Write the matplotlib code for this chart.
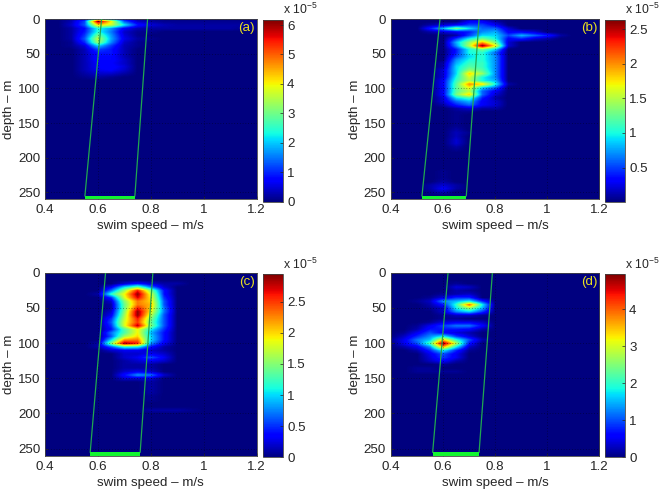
import numpy as np
import matplotlib
matplotlib.use("Agg")
import matplotlib.pyplot as plt

plt.rcParams['font.family'] = ['Liberation Sans', 'DejaVu Sans']
plt.rcParams['mathtext.default'] = 'regular'

speed = [0.40, 0.45, 0.50, 0.55, 0.60, 0.65, 0.70, 0.75, 0.80, 0.85, 0.90, 0.95, 1.00, 1.05, 1.10, 1.15, 1.20]
depth = list(range(0, 265, 5))

# each row: one depth (0, 5, 10 ...), values from speed 0.40 up, in units of 1e-5
rows_a = [
 [0,0,.1,.4,1.5,.8,.3,.1],
 [0,0,.3,1.2,6.1,4.0,1.3,.4,.2,.1,.1,.1,.1,.1,.1,.1,.1],
 [0,0,.4,1.3,4.2,3.7,2.2,.9,.5,.3,.2,.2,.2,.2,.2,.2,.1],
 [0,0,.2,.8,2.4,1.7,.7,.3,.2,.2,.2,.2,.2,.2,.2,.1,.1],
 [0,0,.2,.9,2.4,1.5,.4,.1,.1],
 [0,0,.2,1.1,3.0,1.7,.5,.1],
 [0,0,.2,1.3,3.6,1.8,.6,.2,.1],
 [0,0,.1,1.0,3.3,1.6,.4,.1],
 [0,0,.1,.5,2.0,1.1,.3,.1],
 [0,0,0,.3,1.2,.9,.3],
 [0,0,0,.3,.9,.9,.3],
 [0,0,0,.3,.8,.8,.3],
 [0,0,0,.3,.8,.8,.4],
 [0,0,0,.3,.7,.7,.4],
 [0,0,0,.3,.7,.8,.5],
 [0,0,0,.3,.6,.7,.4],
 [0,0,0,.2,.4,.4,.2],
 [0,0,0,.1,.2,.1],
]
rows_b = [
 [],
 [0,0,0,0,0,0,.3,.3,.1],
 [0,0,0,.1,.2,.3,.5,.5,.3],
 [0,0,0,.4,.8,1.3,.9,.6,.6,.2],
 [0,0,0,.1,.2,.3,.4,.7,.8,.3,.3,.2],
 [0,0,0,0,0,.1,.5,.9,.9,.5,.8,.6,.4,.1],
 [0,0,0,0,0,.5,1.0,1.3,1.0,.3,.4,.2,.1],
 [0,0,0,0,0,.8,1.4,1.9,1.3,.2],
 [0,0,0,0,0,.7,1.5,2.63,1.7,.2],
 [0,0,0,0,0,.4,1.0,1.3,.9],
 [0,0,0,0,0,.4,1.0,1.05,.6],
 [0,0,0,0,0,.5,.9,1.05,.7],
 [0,0,0,0,0,.7,1.0,1.05,.7],
 [0,0,0,0,.1,.8,1.1,1.1,.7],
 [0,0,0,0,.1,.9,1.2,1.1,.7],
 [0,0,0,0,.2,.9,1.4,1.2,.7],
 [0,0,0,0,.2,.9,1.8,1.4,.7],
 [0,0,0,0,.2,1.0,1.6,1.0,.7],
 [0,0,0,0,.3,1.1,1.5,1.0,.8],
 [0,0,0,0,.3,1.2,2.0,1.8,1.0,.1],
 [0,0,0,0,.3,1.2,1.7,.9,.6],
 [0,0,0,0,.3,1.2,1.5,.6,.3],
 [0,0,0,0,.3,1.3,1.8,.6,.2],
 [0,0,0,0,.2,.9,1.1,.4,.1],
 [0,0,0,0,.2,.6,.8,.3,.2],
 [0,0,0,0,.1,.4,.6,.3,.2],
 [0,0,0,0,0,.1,.2,.1,.1],
 [0,0,0,0,0,.05,.05],
 [0,0,0,0,0,.05],
 [0,0,0,0,0,.05],
 [0,0,0,0,0,.05],
 [0,0,0,0,0,.05],
 [0,0,0,0,0,.1],
 [0,0,0,0,0,.15,.05],
 [0,0,0,0,0,.15],
 [0,0,0,0,0,.2],
 [0,0,0,0,0,.2],
 [0,0,0,0,0,.1],
 [0,0,0,0,0,.05],
 [],
 [],
 [],
 [],
 [],
 [0,0,0,0,.05],
 [0,0,0,0,.05],
 [0,0,0,0,.05],
 [0,0,0,0,.1],
 [0,0,0,.1,.2,.1],
 [0,0,0,.1,.3,.1],
 [0,0,0,.05,.15],
]
rows_c = [
 [],
 [],
 [],
 [0,0,0,0,0,0,.2,.4,.2,.1,.1],
 [0,0,0,0,0,.3,1.0,1.4,.7,.2],
 [0,0,0,0,0,.7,1.6,2.6,1.5,.4],
 [0,0,0,0,.1,1.2,1.9,2.9,1.8,.4],
 [0,0,0,0,0,.5,1.8,2.7,1.9,.5],
 [0,0,0,0,0,.2,1.5,2.3,2.0,.6],
 [0,0,0,0,0,.1,1.4,2.3,2.1,.6],
 [0,0,0,0,0,.1,1.4,2.6,2.0,.7],
 [0,0,0,0,0,.2,1.5,2.9,1.9,.7],
 [0,0,0,0,0,.3,1.6,2.9,1.7,.6],
 [0,0,0,0,0,.5,1.7,2.6,1.5,.6],
 [0,0,0,0,0,.6,1.8,2.5,1.4,.6],
 [0,0,0,0,0,.5,1.8,2.8,1.5,.6],
 [0,0,0,0,0,.4,1.3,1.9,1.1,.5],
 [0,0,0,0,0,.7,1.3,1.9,.9,.4],
 [0,0,0,0,0,.6,1.6,2.0,1.0,.4],
 [0,0,0,0,0,1.0,2.2,2.3,1.0,.4],
 [0,0,0,0,.1,1.5,2.85,2.6,.8,.3],
 [0,0,0,0,.1,.6,1.2,1.1,.4,.1],
 [0,0,0,0,0,.2,.3,.3,.2,.1],
 [0,0,0,0,0,0,.2,.2,.3,.2],
 [0,0,0,0,0,0,.2,.3,.6,.3],
 [0,0,0,0,0,0,.1,.2,.3,.2],
 [0,0,0,0,0,0,.1,.1,.1],
 [0,0,0,0,0,0,.1,.1,.1],
 [0,0,0,0,0,0,.2,.3,.2],
 [0,0,0,0,0,0,.4,.8,.7,.2],
 [0,0,0,0,0,0,.2,.2,.2],
 [0,0,0,0,0,0,0,0,.1],
 [0,0,0,0,0,0,0,0,.1],
 [0,0,0,0,0,0,0,0,.1],
 [0,0,0,0,0,0,0,0,.1],
 [0,0,0,0,0,0,0,0,.05],
 [0,0,0,0,0,0,0,0,.05],
 [],
 [],
 [0,0,0,0,0,0,0,0,.1,.1,.1,.05],
]
rows_d = [
 [],
 [],
 [],
 [0,0,0,0,0,.1],
 [0,0,0,0,0,.4,.3],
 [0,0,0,0,0,.2,.1],
 [0,0,0,0,.1,.2,.3],
 [0,0,0,.1,.4,.8,.8],
 [0,0,.1,.3,1.3,1.5,1.8,.8],
 [0,0,0,.2,.7,2.0,4.0,1.8],
 [0,0,0,.1,.3,1.8,2.6,1.5],
 [0,0,0,0,.3,1.3,1.7,.9],
 [0,0,0,0,.1,.3,.3,.1],
 [0,0,0,0,.1,.1],
 [0,0,0,.1,.4,.5,.5,.3],
 [0,0,.1,.5,.9,1.2,1.2,.6],
 [0,0,.2,.7,.7,.7,.6,.2],
 [0,.1,.5,1.0,.6,.4,.2],
 [0,.3,.8,1.3,1.8,.9,.4],
 [.1,.5,1.2,1.6,3.4,2.0,1.0,.2],
 [0,.5,1.0,2.2,4.95,2.8,.7],
 [0,.2,.5,1.3,3.6,1.8,.3],
 [0,0,.2,.8,1.8,.8,.1],
 [0,0,0,.5,1.0,.5],
 [0,0,0,.4,.9,.5],
 [0,0,0,.3,.6,.2],
 [0,0,0,0,.1],
 [0,0,.1,.1],
 [0,0,.1,.1,.1,.1],
]

panel_names = ['(a)', '(b)', '(c)', '(d)']
panel_rows = [rows_a, rows_b, rows_c, rows_d]
panel_vmin = [0, 0.01, 0, 0]
panel_vmax = [6.17, 2.63, 2.94, 4.95]
cbar_ticks = [[0, 1, 2, 3, 4, 5, 6],
              [0.5, 1, 1.5, 2, 2.5],
              [0, 0.5, 1, 1.5, 2, 2.5],
              [0, 1, 2, 3, 4]]
cbar_labels = [['0', '1', '2', '3', '4', '5', '6'],
               ['0.5', '1', '1.5', '2', '2.5'],
               ['0', '0.5', '1', '1.5', '2', '2.5'],
               ['0', '1', '2', '3', '4']]
# envelope lines: speed at depth 0 and at depth 255
left_top = [0.614, 0.589, 0.629, 0.620]
left_bottom = [0.551, 0.520, 0.571, 0.561]
right_top = [0.788, 0.739, 0.808, 0.790]
right_bottom = [0.740, 0.690, 0.760, 0.739]
x_ticks = [0.4, 0.6, 0.8, 1.0, 1.2]
x_labels = ['0.4', '0.6', '0.8', '1', '1.2']
y_ticks = [0, 50, 100, 150, 200, 250]

W, H = 660, 491
ax_boxes = [(45, 19, 256.5, 199.3), (390.7, 19, 599.3, 199.3),
            (45, 272.7, 256.5, 455.7), (390.7, 272.7, 599.3, 455.7)]
cb_boxes = [(262.7, 20, 283, 201.5), (605, 20, 625, 201.5),
            (262.7, 274.3, 283, 457.3), (605, 274.3, 625, 457.3)]
DARK = '#262626'
FS = 9.6


def rect(box):
    l, t, r, b = box
    return [l / W, 1 - b / H, (r - l) / W, (b - t) / H]


fig = plt.figure(figsize=(W / 100, H / 100), dpi=100)
dx = speed[1] - speed[0]
dy = depth[1] - depth[0]
for i in range(4):
    Z = np.zeros((len(depth), len(speed)))
    for j, row in enumerate(panel_rows[i]):
        Z[j, :len(row)] = row
    ax = fig.add_axes(rect(ax_boxes[i]))
    im = ax.imshow(Z, cmap='jet', vmin=panel_vmin[i], vmax=panel_vmax[i], aspect='auto',
                   interpolation='bilinear', origin='upper',
                   extent=[speed[0] - dx / 2, speed[-1] + dx / 2, depth[-1] + dy / 2, depth[0] - dy / 2])
    ax.set_xlim(0.4, 1.2)
    ax.set_ylim(260, 0)
    ax.set_xticks(x_ticks, x_labels)
    ax.set_yticks(y_ticks)
    ax.grid(True, color='black', lw=0.5, ls=(0, (1, 3)), alpha=0.7)
    ax.tick_params(direction='in', length=2, width=0.5, color=DARK, labelcolor=DARK,
                   labelsize=FS, pad=3.5)
    for s in ax.spines.values():
        s.set_linewidth(0.6)
        s.set_color('#444444')
    ax.set_xlabel('swim speed – m/s', fontsize=FS, color=DARK, labelpad=3)
    ax.set_ylabel('depth – m', fontsize=FS, color=DARK, labelpad=2)
    ax.plot([left_top[i], left_bottom[i]], [0, 255], color='#20a850', lw=0.9, zorder=3)
    ax.plot([right_top[i], right_bottom[i]], [0, 255], color='#20a850', lw=0.9, zorder=3)
    ax.fill_between([left_bottom[i], right_bottom[i]], 255, 260, color='#12f530', lw=0, zorder=3)
    ax.text(1.195, 13, panel_names[i], color='#e8e020', fontsize=FS, ha='right', va='center')

    cax = fig.add_axes(rect(cb_boxes[i]))
    cb = fig.colorbar(im, cax=cax)
    cb.set_ticks(cbar_ticks[i], labels=cbar_labels[i])
    cax.tick_params(direction='in', length=2, width=0.5, color=DARK, labelcolor=DARK,
                    labelsize=FS, pad=3)
    cb.outline.set_linewidth(0.6)
    cb.outline.set_edgecolor('#444444')
    cax.text(0.98, 1.015, 'x 10$^{-5}$', transform=cax.transAxes, fontsize=8.8, color=DARK,
             ha='left', va='bottom', clip_on=False)

fig.savefig('out.png', dpi=100)
